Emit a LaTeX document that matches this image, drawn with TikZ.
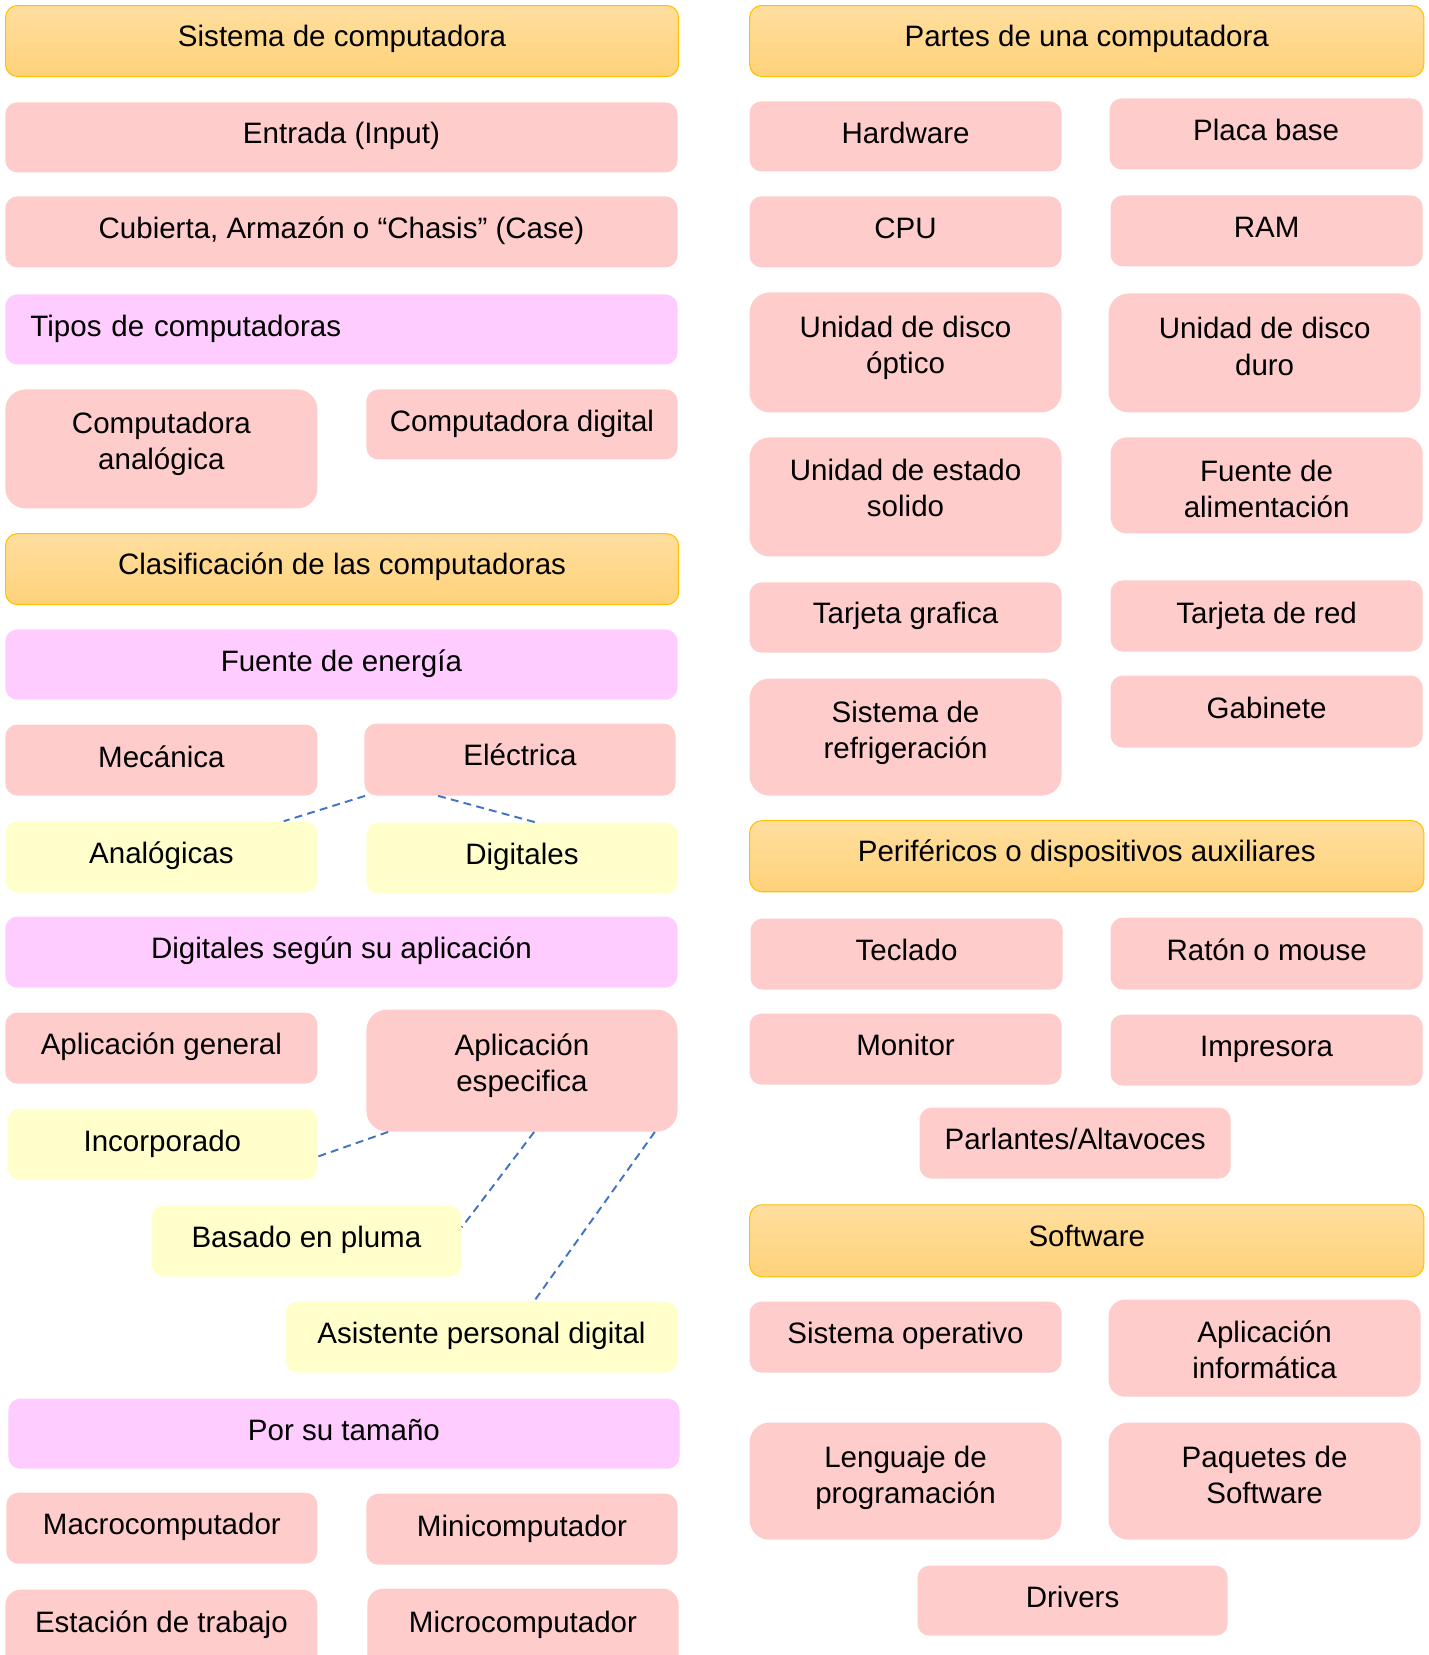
\documentclass[tikz,border=0pt]{standalone}
\usepackage{fontspec}
\setmainfont{Liberation Sans}
\definecolor{orT}{HTML}{FFDE9E}
\definecolor{orB}{HTML}{FFD27A}
\definecolor{orD}{HTML}{FFC000}
\definecolor{pk}{HTML}{FFCCCC}
\definecolor{vi}{HTML}{FFCCFF}
\definecolor{ye}{HTML}{FFFFCC}
\definecolor{ln}{HTML}{4472C4}
\tikzset{
 ty/.store in=\myTy,
 base/.style={inner sep=0pt, align=center, font=\fontsize{16.8}{20.5}\selectfont, ty=0.015},
 orbox/.style={base, top color=orT, bottom color=orB, draw=orD, line width=0.6pt, ty=0.042},
 pkbox/.style={base, fill=pk},
 vibox/.style={base, fill=vi},
 yebox/.style={base, fill=ye},
 conn/.style={draw=ln, line width=1.1pt, dash pattern=on 4.5pt off 3pt},
}
\newcommand\mybox[7]{%
 \pgfmathsetmacro\myW{(#5-#3)*0.02}%
 \pgfmathsetmacro\myH{(#6-#4)*0.02}%
 \pgfmathsetmacro\myR{min(#6-#4,#5-#3)*0.02*0.17}%
 \node[#2, minimum width=\myW cm, minimum height=\myH cm, rounded corners=\myR cm, anchor=north west] (#1) at ({#3*0.02},{-#4*0.02}) {\raisebox{\myTy cm}[\height][\depth]{\begin{tabular}{@{}c@{}}#7\end{tabular}}};}
\begin{document}
\begin{tikzpicture}
\useasboundingbox[fill=white] (0,0) rectangle (28.58,-33.1);
% left column
\mybox{sis}{orbox}{5}{5}{678}{76}{Sistema de computadora}
\mybox{ent}{pkbox}{5}{102}{677}{172}{Entrada (Input)}
\mybox{cub}{pkbox}{5}{196}{677}{267}{Cubierta, Armazón o “Chasis” (Case)}
\mybox{tip}{vibox, ty=0, text width=12.44cm, align=left}{5}{294}{677}{364}{Tipos de computadoras}
\mybox{can}{pkbox, ty=0.084}{5}{389}{317}{508}{Computadora\\analógica}
\mybox{cdi}{pkbox, ty=0}{366}{389}{677}{459}{Computadora digital}
\mybox{cla}{orbox}{5}{533}{678}{604}{Clasificación de las computadoras}
\mybox{fue}{vibox, ty=0}{5}{629}{677}{699}{Fuente de energía}
\mybox{mec}{pkbox, ty=0}{5}{724}{317}{795}{Mecánica}
\mybox{ele}{pkbox}{364}{723}{675}{795}{Eléctrica}
\mybox{ana}{yebox}{5}{821}{317}{892}{Analógicas}
\mybox{dig}{yebox}{366}{822}{677}{893}{Digitales}
\mybox{dsa}{vibox}{5}{916}{677}{987}{Digitales según su aplicación}
\mybox{apg}{pkbox}{5}{1012}{317}{1083}{Aplicación general}
\mybox{ape}{pkbox, ty=0.084}{366}{1009}{677}{1131}{Aplicación\\especifica}
\mybox{inc}{yebox, ty=0}{7}{1108}{317}{1179}{Incorporado}
\mybox{bas}{yebox}{151}{1205}{461}{1276}{Basado en pluma}
\mybox{asi}{yebox}{285}{1301}{677}{1372}{Asistente personal digital}
\mybox{por}{vibox, ty=0}{8}{1398}{679}{1468}{Por su tamaño}
\mybox{mac}{pkbox}{6}{1492}{317}{1563}{Macrocomputador}
\mybox{mini}{pkbox, ty=0}{366}{1493}{677}{1564}{Minicomputador}
\mybox{est}{pkbox, ty=0.195}{5}{1589}{317}{1680}{Estación de trabajo}
\mybox{mic}{pkbox, ty=0.19}{367}{1588}{678}{1680}{Microcomputador}
% right column
\mybox{par}{orbox}{749}{5}{1423}{76}{Partes de una computadora}
\mybox{har}{pkbox, ty=0}{749}{101}{1061}{171}{Hardware}
\mybox{pla}{pkbox}{1109}{98}{1422}{169}{Placa base}
\mybox{cpu}{pkbox}{749}{196}{1061}{267}{CPU}
\mybox{ram}{pkbox}{1110}{195}{1422}{266}{RAM}
\mybox{udo}{pkbox, ty=0.084}{749}{292}{1061}{412}{Unidad de disco\\óptico}
\mybox{udd}{pkbox, ty=0.063}{1108}{293}{1420}{412}{Unidad de disco\\duro}
\mybox{ues}{pkbox, ty=0.105}{749}{437}{1061}{556}{Unidad de estado\\solido}
\mybox{fal}{pkbox, ty=-0.127}{1110}{437}{1422}{533}{Fuente de\\alimentación}
\mybox{tgr}{pkbox}{749}{582}{1061}{652}{Tarjeta grafica}
\mybox{tre}{pkbox, ty=0}{1110}{580}{1422}{651}{Tarjeta de red}
\mybox{sre}{pkbox, ty=0.084}{749}{678}{1061}{795}{Sistema de\\refrigeración}
\mybox{gab}{pkbox, ty=0}{1110}{675}{1422}{747}{Gabinete}
\mybox{per}{orbox}{749}{820}{1423}{891}{Periféricos o dispositivos auxiliares}
\mybox{tec}{pkbox}{750}{918}{1062}{989}{Teclado}
\mybox{rat}{pkbox, ty=0}{1110}{917}{1422}{989}{Ratón o mouse}
\mybox{mon}{pkbox}{749}{1013}{1061}{1084}{Monitor}
\mybox{imp}{pkbox}{1110}{1014}{1422}{1085}{Impresora}
\mybox{alt}{pkbox}{919}{1107}{1230}{1178}{Parlantes/Altavoces}
\mybox{sof}{orbox, ty=0.021}{749}{1204}{1423}{1276}{Software}
\mybox{sop}{pkbox}{749}{1301}{1061}{1372}{Sistema operativo}
\mybox{api}{pkbox, ty=-0.105}{1108}{1299}{1420}{1396}{Aplicación\\informática}
\mybox{len}{pkbox, ty=0.063}{749}{1422}{1061}{1539}{Lenguaje de\\programación}
\mybox{paq}{pkbox, ty=0.063}{1108}{1422}{1420}{1539}{Paquetes de\\Software}
\mybox{drv}{pkbox, ty=0}{917}{1565}{1227}{1635}{Drivers}
% connectors
\draw[conn] ([xshift=0.02cm]ele.south west) -- ([xshift=-0.68cm]ana.north east);
\draw[conn] ([xshift=1.48cm]ele.south west) -- ([xshift=3.38cm]dig.north west);
\draw[conn] ([xshift=0.44cm]ape.south west) -- ([yshift=-0.25cm]inc.east);
\draw[conn] ([xshift=3.36cm]ape.south west) -- ([yshift=-0.44cm]bas.north east);
\draw[conn] ([xshift=-0.46cm]ape.south east) -- ([xshift=4.98cm]asi.north west);
\end{tikzpicture}
\end{document}
